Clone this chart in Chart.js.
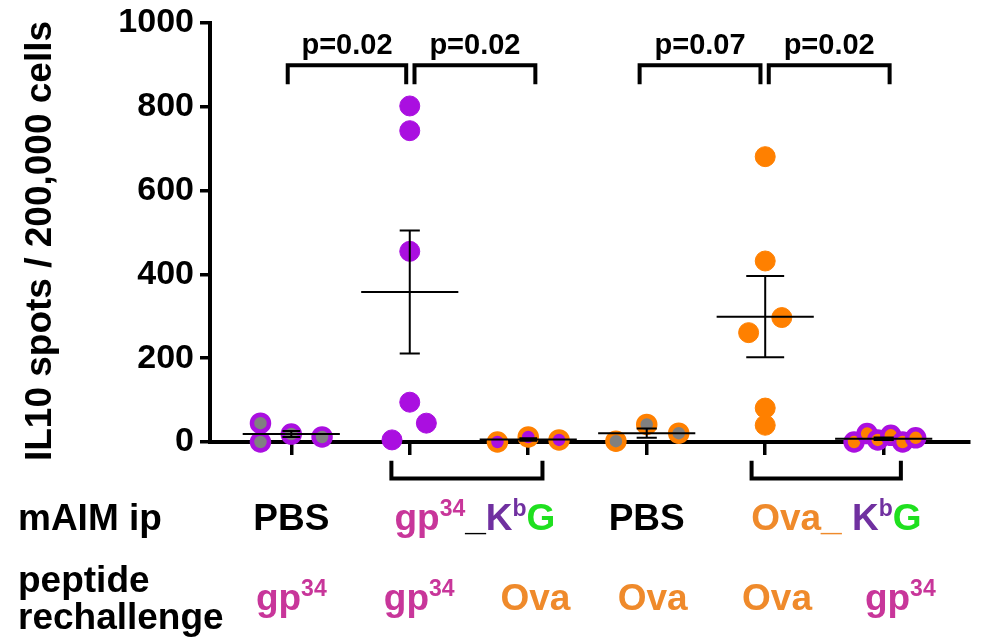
<!DOCTYPE html>
<html>
<head>
<meta charset="utf-8">
<script src="https://cdn.jsdelivr.net/npm/chart.js@4.4.0/dist/chart.umd.min.js"></script>
<style>
  html, body { margin: 0; padding: 0; background: #fff; }
</style>
</head>
<body>
<canvas id="chart" width="982" height="638"></canvas>
<script>
// IL10 ELISpot
const pbsGp      = [45, 0, 19, 12];
const pbsGpX     = [-0.26, -0.26, 0, 0.26];
const gpKbgGp    = [802, 743, 455, 95, 45, 5];
const gpKbgGpX   = [0, 0, 0, 0, 0.14, -0.15];
const gpKbgOva   = [0, 12, 5];
const gpKbgOvaX  = [-0.26, 0, 0.26];
const pbsOva     = [2, 42, 21];
const pbsOvaX    = [-0.26, 0, 0.27];
const ovaKbgOva  = [681, 432, 261, 297, 81, 40];
const ovaKbgOvaX = [0, 0, -0.14, 0.14, 0, 0];
const ovaKbgGp   = [0, 20, 5, 16, 0, 10];
const ovaKbgGpX  = [-0.25, -0.14, -0.05, 0.06, 0.16, 0.27];

// Mittelwert +/- SEM
const means = [19, 358, 6, 21, 299, 8];
const sems  = [7, 147, 3, 11, 97, 3];

const yTicks = [0, 200, 400, 600, 800, 1000];
const yTitle = 'IL10 spots / 200,000 cells';
const pValues = ['p=0.02', 'p=0.02', 'p=0.07', 'p=0.02'];

const PURPLE = '#aa0fe0';
const ORANGE = '#ff8000';
const GRAY = '#808080';
const MAGENTA = '#c8369a';
const ORANGE_TXT = '#ef8a2b';
const VIOLET = '#7030a0';
const GREEN = '#1fe01f';
const FONT = '"Liberation Sans", Arial, sans-serif';

// Beschriftung unter der Achse: [Text, Farbe, hochgestellt]
const ipLabels = [
  [['PBS', '#000']],
  [['gp', MAGENTA], ['34', MAGENTA, true], ['_', '#000'], ['K', VIOLET], ['b', VIOLET, true], ['G', GREEN]],
  [['PBS', '#000']],
  [['Ova_ ', ORANGE_TXT], ['K', VIOLET], ['b', VIOLET, true], ['G', GREEN]]
];
const peptideLabels = [
  [['gp', MAGENTA], ['34', MAGENTA, true]],
  [['gp', MAGENTA], ['34', MAGENTA, true]],
  [['Ova', ORANGE_TXT]],
  [['Ova', ORANGE_TXT]],
  [['Ova', ORANGE_TXT]],
  [['gp', MAGENTA], ['34', MAGENTA, true]]
];

function pts(vals, jit, i) {
  return vals.map((v, k) => ({ x: i + jit[k], y: v }));
}

function ds(data, fill, border, bw, r) {
  return {
    data: data,
    backgroundColor: fill,
    borderColor: border,
    borderWidth: bw,
    pointRadius: r,
    pointHoverRadius: r,
    clip: false
  };
}

const datasets = [
  ds(pts(pbsGp, pbsGpX, 0), GRAY, PURPLE, 4.5, 8.5),
  ds(pts(gpKbgGp, gpKbgGpX, 1), PURPLE, PURPLE, 1, 10),
  ds(pts(gpKbgOva, gpKbgOvaX, 2), PURPLE, ORANGE, 4.5, 8.5),
  ds(pts(pbsOva, pbsOvaX, 3), GRAY, ORANGE, 4.5, 8.5),
  ds(pts(ovaKbgOva, ovaKbgOvaX, 4), ORANGE, ORANGE, 1, 10),
  ds(pts(ovaKbgGp, ovaKbgGpX, 5), ORANGE, PURPLE, 4.5, 8.5)
];

function drawRich(ctx, parts, x, y, size) {
  const main = 'bold ' + size + 'px ' + FONT;
  const sup = 'bold ' + Math.round(size * 0.62) + 'px ' + FONT;
  let w = 0;
  parts.forEach(p => { ctx.font = p[2] ? sup : main; w += ctx.measureText(p[0]).width; });
  let cx = x - w / 2;
  parts.forEach(p => {
    ctx.font = p[2] ? sup : main;
    ctx.fillStyle = p[1];
    ctx.fillText(p[0], cx, p[2] ? y - size * 0.37 : y);
    cx += ctx.measureText(p[0]).width;
  });
}

const annotations = {
  id: 'annotations',
  afterDatasetsDraw(chart) {
    const { ctx, scales: { x, y } } = chart;
    ctx.save();

    // Mittelwert-Linie und SEM-Balken
    const capHalf = [0.075, 0.085, 0.075, 0.085, 0.16, 0.085];
    ctx.strokeStyle = '#000';
    ctx.lineWidth = 2;
    means.forEach((m, i) => {
      const my = y.getPixelForValue(m);
      ctx.beginPath();
      ctx.moveTo(x.getPixelForValue(i - 0.41), my);
      ctx.lineTo(x.getPixelForValue(i + 0.41), my);
      const top = y.getPixelForValue(m + sems[i]);
      const bot = y.getPixelForValue(m - sems[i]);
      const cx = x.getPixelForValue(i);
      ctx.moveTo(cx, top);
      ctx.lineTo(cx, bot);
      ctx.moveTo(x.getPixelForValue(i - capHalf[i]), top);
      ctx.lineTo(x.getPixelForValue(i + capHalf[i]), top);
      ctx.moveTo(x.getPixelForValue(i - capHalf[i]), bot);
      ctx.lineTo(x.getPixelForValue(i + capHalf[i]), bot);
      ctx.stroke();
    });

    // Klammern oben mit p-Werten
    const topBrackets = [[-0.03, 0.97], [1.04, 2.06], [2.94, 3.96], [4.03, 5.05]];
    ctx.lineWidth = 4;
    ctx.lineCap = 'butt';
    ctx.lineJoin = 'miter';
    topBrackets.forEach((b, k) => {
      const x1 = x.getPixelForValue(b[0]);
      const x2 = x.getPixelForValue(b[1]);
      const yt = y.getPixelForValue(899);
      const yb = y.getPixelForValue(854);
      ctx.beginPath();
      ctx.moveTo(x1, yb);
      ctx.lineTo(x1, yt);
      ctx.lineTo(x2, yt);
      ctx.lineTo(x2, yb);
      ctx.stroke();
      ctx.font = 'bold 29px ' + FONT;
      ctx.fillStyle = '#000';
      ctx.textAlign = 'center';
      ctx.textBaseline = 'alphabetic';
      ctx.fillText(pValues[k], (x1 + x2) / 2, y.getPixelForValue(925));
    });

    // Klammern unter der Achse
    const lowBrackets = [[0.845, 2.12], [3.885, 5.145]];
    lowBrackets.forEach(b => {
      const x1 = x.getPixelForValue(b[0]);
      const x2 = x.getPixelForValue(b[1]);
      const yt = y.getPixelForValue(-45);
      const yb = y.getPixelForValue(-87);
      ctx.beginPath();
      ctx.moveTo(x1, yt);
      ctx.lineTo(x1, yb);
      ctx.lineTo(x2, yb);
      ctx.lineTo(x2, yt);
      ctx.stroke();
    });

    // Y-Achsentitel
    ctx.save();
    ctx.translate(41, 241);
    ctx.rotate(-Math.PI / 2);
    ctx.font = 'bold 37px ' + FONT;
    ctx.fillStyle = '#000';
    ctx.textAlign = 'center';
    ctx.textBaseline = 'middle';
    ctx.fillText(yTitle, 0, 0);
    ctx.restore();

    // Zeilenbeschriftung
    ctx.textAlign = 'left';
    ctx.textBaseline = 'alphabetic';
    ctx.fillStyle = '#000';
    ctx.font = 'bold 37px ' + FONT;
    ctx.fillText('mAIM ip', 18, 530);
    ctx.fillText('peptide', 18, 592);
    ctx.fillText('rechallenge', 18, 629);

    const ipAt = [0, 1.55, 3, 4.6];
    ipLabels.forEach((parts, i) => drawRich(ctx, parts, x.getPixelForValue(ipAt[i]), 530, 37));
    const pepAt = [0, 1.08, 2.06, 3.05, 4.1, 5.14];
    peptideLabels.forEach((parts, i) => drawRich(ctx, parts, x.getPixelForValue(pepAt[i]), 610, 37));

    ctx.restore();
  }
};

new Chart(document.getElementById('chart'), {
  type: 'scatter',
  data: { datasets: datasets },
  options: {
    responsive: false,
    animation: false,
    events: [],
    layout: { padding: { top: 20, right: 2, left: 0, bottom: 0 } },
    plugins: { legend: { display: false }, tooltip: { enabled: false } },
    scales: {
      x: {
        type: 'linear',
        min: -0.686,
        max: 5.72,
        afterFit: ax => { ax.height = 196; },
        border: { display: true, color: '#000', width: 4 },
        grid: { display: true, drawOnChartArea: false, drawTicks: true, tickLength: 13, lineWidth: 3.5, color: '#000' },
        ticks: { stepSize: 1, includeBounds: false, callback: () => '', font: { size: 2 } }
      },
      y: {
        min: 0,
        max: 1000,
        afterFit: ax => { ax.width = 210; },
        afterBuildTicks: ax => { ax.ticks = yTicks.map(v => ({ value: v })); },
        border: { display: true, color: '#000', width: 4 },
        grid: { display: true, drawOnChartArea: false, drawTicks: true, tickLength: 10, lineWidth: 3.5, color: '#000' },
        ticks: {
          color: '#000',
          padding: 6,
          callback: v => String(v),
          font: { family: FONT, size: 34, weight: 'bold', lineHeight: 1 }
        }
      }
    }
  },
  plugins: [annotations]
});
</script>
</body>
</html>
